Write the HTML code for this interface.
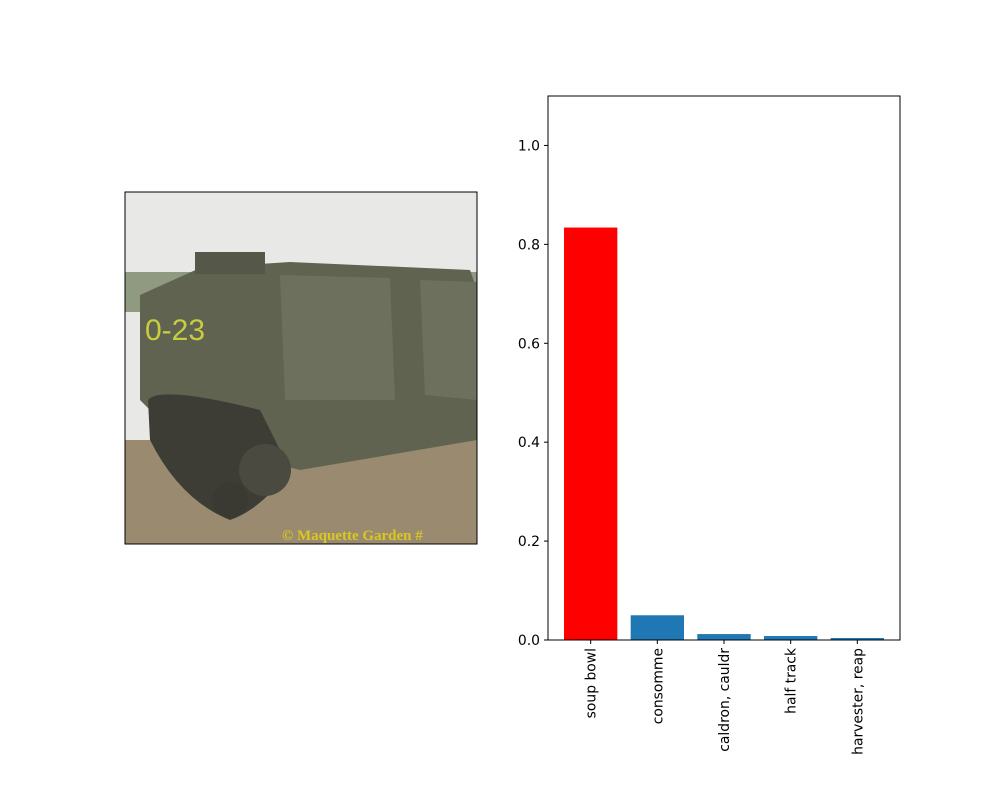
<!DOCTYPE html>
<html><head><meta charset="utf-8"><style>
body{margin:0;background:#fff;font-family:"DejaVu Sans",sans-serif}
</style></head><body>
<svg width="1000" height="800" xmlns="http://www.w3.org/2000/svg">
<rect width="1000" height="800" fill="#fff"/>
<g>
  <rect x="125" y="192" width="352" height="352" fill="#e8e8e6"/>
  <rect x="125" y="272" width="352" height="40" fill="#8f9a80"/>
  <rect x="125" y="440" width="352" height="104" fill="#9a8b70"/>
  <polygon points="140,295 200,268 290,262 470,270 477,290 477,440 300,470 180,440 140,400" fill="#5f6350"/>
  <polygon points="280,275 390,278 395,400 285,400" fill="#6d705d"/>
  <polygon points="420,280 477,282 477,400 425,395" fill="#6d705d"/>
  <rect x="195" y="252" width="70" height="22" fill="#555848"/>
  <path d="M148,400 Q160,385 260,410 L290,470 Q260,510 230,520 Q180,500 150,440 Z" fill="#3e3d35"/>
  <circle cx="265" cy="470" r="26" fill="#4a4a40"/>
  <circle cx="230" cy="500" r="18" fill="#3a3a33"/>
  <text x="145" y="340" font-size="30" fill="#c8cc40" font-family="Liberation Sans,sans-serif">0-23</text>
  <text x="282" y="540" font-size="15" font-weight="bold" fill="#d8c820" font-family="Liberation Serif,serif">© Maquette Garden #</text>
  <rect x="125" y="192" width="352" height="352" fill="none" stroke="#000" stroke-width="1"/>
</g>
<g id="chart"></g>
</svg>
<script>
const categories=["soup bowl","consomme","caldron, cauldr","half track","harvester, reap"];
const values=[0.834,0.05,0.012,0.008,0.004];
const colors=["#ff0000","#1f77b4","#1f77b4","#1f77b4","#1f77b4"];
const yTicks=[0,0.2,0.4,0.6,0.8,1.0];
const yTickLabels=["0.0","0.2","0.4","0.6","0.8","1.0"];
const NS="http://www.w3.org/2000/svg";
const L=548,R=900,T=96,B=640,YMAX=1.1;
const n=categories.length;
const xmin=-0.4-0.05*(n-0.2),xmax=n-0.6+0.05*(n-0.2);
const xs=i=>L+(i-xmin)/(xmax-xmin)*(R-L);
const ys=v=>B-v/YMAX*(B-T);
const g=document.getElementById('chart');
function mk(tag,attrs,txt){const e=document.createElementNS(NS,tag);for(const k in attrs)e.setAttribute(k,attrs[k]);if(txt!=null)e.textContent=txt;g.appendChild(e);return e;}
const bw=0.8*(R-L)/(xmax-xmin);
values.forEach((v,i)=>{
  const r=mk('rect',{x:xs(i)-bw/2,y:ys(v),width:bw,height:B-ys(v),fill:colors[i]});
  
  
  const t=mk('line',{x1:xs(i),x2:xs(i),y1:B,y2:B+4,stroke:'#000'});
  
  
  const lb=mk('text',{x:0,y:0,'font-size':13.9,'text-anchor':'end',transform:`translate(${xs(i)+5},${B+8}) rotate(-90)`},categories[i]);
  
  
});
yTicks.forEach((v,i)=>{
  const t=mk('line',{x1:L-4,x2:L,y1:ys(v),y2:ys(v),stroke:'#000'});
  
  
  const lb=mk('text',{x:L-8,y:ys(v)+5,'font-size':13.9,'text-anchor':'end'},yTickLabels[i]);
  
  
});
const f=mk('rect',{x:L,y:T,width:R-L,height:B-T,fill:'none',stroke:'#000'});


</script>
</body></html>
